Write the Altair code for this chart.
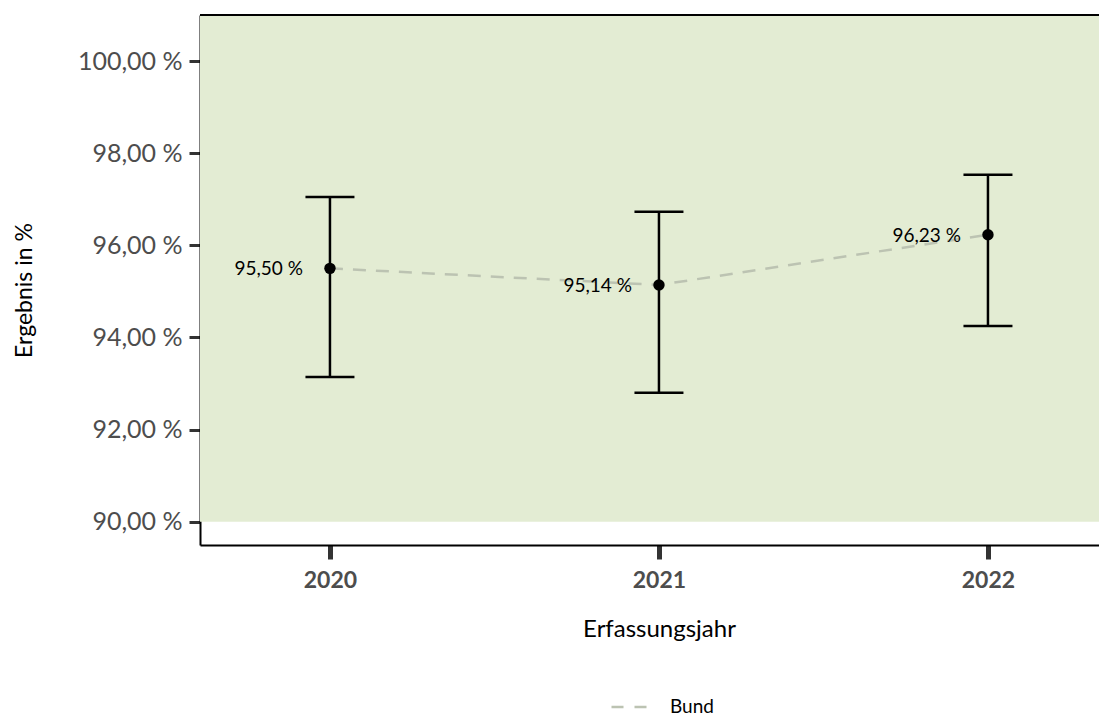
import altair as alt
import pandas as pd

# ---- data ----
years = [2020, 2021, 2022]
values = [95.50, 95.14, 96.23]
lower = [93.14, 92.80, 94.25]
upper = [97.05, 96.73, 97.53]
series = ["Bund", "Bund", "Bund"]
y_ticks = [90, 92, 94, 96, 98, 100]
band_lower = [90.0]
band_upper = [101.0]

FONT = "Lato"
W, H = 899, 530

df = pd.DataFrame({
    "year": years,
    "value": values,
    "lower": lower,
    "upper": upper,
    "series": series,
})
df["label"] = [f"{v:.2f}".replace(".", ",") + " %" for v in values]
band_df = pd.DataFrame({"lo": band_lower, "hi": band_upper})

xscale = alt.Scale(domain=[2019.605, 2022.3375], nice=False, zero=False)
yscale = alt.Scale(domain=[89.495, 101.0], nice=False, zero=False)

x_axis = alt.Axis(
    values=years, format="d", title="Erfassungsjahr", grid=False,
    labelFont=FONT, labelFontWeight="bold", labelFontSize=23, labelColor="#4d4d4d",
    labelPadding=10, tickColor="#333333", tickWidth=5, tickSize=14,
    domainColor="black", domainWidth=2,
    titleFont=FONT, titleFontSize=24, titleFontWeight="normal", titleColor="black",
    titleX=459, titleY=84, titleBaseline="middle",
)
y_axis = alt.Axis(
    values=y_ticks, title="Ergebnis in %", grid=False,
    labelExpr="replace(format(datum.value, '.2f'), '.', ',') + ' %'",
    labelFont=FONT, labelFontSize=25, labelColor="#4d4d4d", labelPadding=7,
    tickColor="#333333", tickWidth=3, tickSize=11,
    domainColor="black", domainWidth=2,
    titleFont=FONT, titleFontSize=23, titleFontWeight="normal", titleColor="black",
    titleX=-176, titleY=275, titleAngle=-90, titleBaseline="middle", titleAlign="center",
)


def X(field):
    return alt.X(field, scale=xscale, axis=x_axis, title="Erfassungsjahr")


def Y(field):
    return alt.Y(field, scale=yscale, axis=y_axis, title="Ergebnis in %")


base = alt.Chart(df)

band = alt.Chart(band_df).mark_rect(color="#e3ecd3").encode(
    x=alt.value(0), x2=alt.value(W),
    y=Y("lo:Q"), y2="hi:Q",
)

top_border = alt.Chart(band_df).mark_rule(color="black", strokeWidth=2).encode(
    x=alt.value(0), x2=alt.value(W), y=alt.value(0)
)

line = base.mark_line(strokeDash=[13, 10], strokeWidth=2.5).encode(
    x=X("year:Q"),
    y=Y("value:Q"),
    color=alt.Color(
        "series:N",
        scale=alt.Scale(range=["#bcc3b2"]),
        legend=alt.Legend(
            title=None, orient="none", legendX=410, legendY=672,
            symbolType="stroke", symbolStrokeWidth=2.5, symbolDash=[12, 11],
            symbolStrokeColor="#cccccc", symbolSize=1369,
            labelFont=FONT, labelFontSize=19, labelColor="black", labelOffset=20,
        ),
    ),
)

bars = base.mark_rule(color="black", strokeWidth=2.5).encode(
    x=X("year:Q"), y=Y("lower:Q"), y2="upper:Q",
)
cap_lo = base.mark_tick(orient="horizontal", size=49, thickness=2.5, color="black", opacity=1).encode(
    x=X("year:Q"), y=Y("lower:Q"),
)
cap_hi = base.mark_tick(orient="horizontal", size=49, thickness=2.5, color="black", opacity=1).encode(
    x=X("year:Q"), y=Y("upper:Q"),
)
points = base.mark_circle(size=130, color="black", opacity=1).encode(
    x=X("year:Q"), y=Y("value:Q"),
)
labels = base.mark_text(align="right", baseline="middle", dx=-27, dy=1,
                        font=FONT, fontSize=19, color="black").encode(
    x=X("year:Q"), y=Y("value:Q"), text="label:N",
)

chart = alt.layer(band, top_border, line, bars, cap_lo, cap_hi, points, labels).properties(
    width=W, height=H,
    autosize=alt.AutoSizeParams(type="none"),
    padding={"left": 192, "top": 7, "right": 0, "bottom": 171},
).configure_view(stroke=None)

chart.save("out.html", embed_options={"renderer": "svg", "actions": False})
